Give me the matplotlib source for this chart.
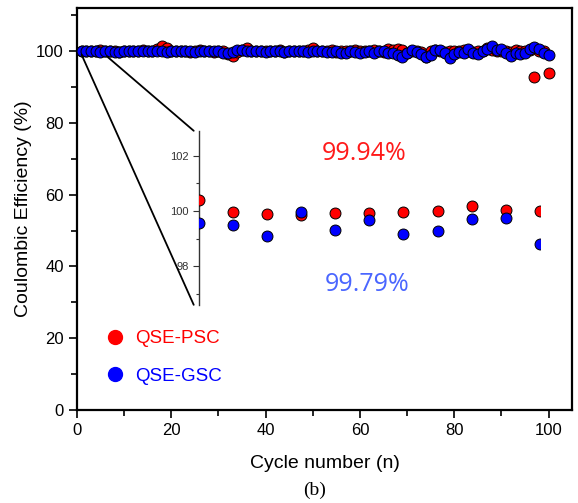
import matplotlib.pyplot as plt
import numpy as np
from matplotlib.lines import Line2D
from matplotlib.patches import ConnectionPatch
from matplotlib.ticker import MultipleLocator

plt.rcParams["font.family"] = ["Liberation Sans", "DejaVu Sans"]

# Coulombic efficiency per cycle (%)
cycles = np.arange(1, 101)
psc_ce = [
    100.0, 100.1, 99.9, 100.0, 100.2, 99.9, 100.0, 100.1, 99.8, 100.0,
    100.1, 99.9, 100.0, 100.2, 99.9, 100.0, 100.6, 101.3, 100.8, 100.1,
    99.9, 100.0, 100.1, 99.8, 100.0, 100.2, 99.9, 100.0, 99.8, 100.1,
    99.9, 99.3, 98.6, 99.8, 100.2, 100.8, 100.1, 99.9, 100.0, 100.1,
    99.9, 100.0, 100.2, 99.8, 100.0, 100.1, 99.9, 100.0, 100.3, 100.8,
    100.1, 99.9, 100.0, 100.2, 99.8, 100.0, 100.1, 99.9, 100.2, 100.0,
    99.9, 100.1, 100.3, 100.0, 99.8, 100.6, 100.4, 100.5, 100.2, 99.6,
    100.0, 100.1, 99.7, 98.4, 99.9, 100.2, 100.0, 99.8, 100.1, 100.0,
    99.9, 100.2, 100.0, 99.8, 100.1, 100.0, 101.0, 100.2, 99.9, 100.1,
    100.0, 99.7, 100.2, 100.1, 99.9, 100.3, 92.7, 100.0, 99.9, 94.0,
]
gsc_ce = [
    100.0, 100.1, 99.9, 100.0, 99.8, 99.9, 100.0, 99.7, 99.8, 100.0,
    100.1, 100.0, 99.9, 100.1, 100.0, 99.9, 100.1, 100.0, 99.8, 100.1,
    100.0, 99.9, 100.1, 100.0, 99.8, 100.0, 100.1, 99.9, 100.0, 99.9,
    99.6, 99.5, 99.8, 100.2, 100.3, 100.0, 99.9, 100.1, 100.0, 99.8,
    100.0, 100.1, 99.9, 99.8, 100.0, 100.1, 99.9, 100.0, 99.8, 99.9,
    100.1, 99.9, 99.7, 99.8, 100.0, 99.6, 99.5, 100.1, 99.7, 99.4,
    99.8, 100.0, 99.6, 99.9, 100.0, 99.6, 99.4, 98.9, 98.4, 99.4,
    100.3, 99.8, 99.1, 98.3, 98.9, 100.3, 100.3, 99.4, 98.1, 99.1,
    99.8, 99.4, 100.7, 99.6, 99.1, 100.0, 100.6, 101.4, 100.3, 100.7,
    99.4, 98.7, 99.4, 99.1, 99.6, 100.6, 101.2, 100.6, 99.6, 98.9,
]

# Zoomed view, every tenth cycle
inset_cycles = [0, 10, 20, 30, 40, 50, 60, 70, 80, 90, 100]
inset_psc = [100.39, 99.96, 99.88, 99.85, 99.92, 99.94, 99.96, 99.99, 100.17, 100.02, 99.99]
inset_gsc = [99.55, 99.48, 99.10, 99.95, 99.31, 99.66, 99.15, 99.28, 99.71, 99.76, 98.81]

psc_mean = "99.94%"
gsc_mean = "99.79%"

fig = plt.figure(figsize=(5.78, 5.03), dpi=100)
ax = fig.add_axes([0.133, 0.185, 0.857, 0.799])

mk = dict(marker="o", s=62, edgecolors="black", linewidths=0.7)
ax.scatter(cycles, psc_ce, color="#ff0000", zorder=3, **mk)
ax.scatter(cycles, gsc_ce, color="#0000ff", zorder=4, **mk)

ax.set_xlim(0, 105)
ax.set_ylim(0, 112)
ax.xaxis.set_major_locator(MultipleLocator(20))
ax.xaxis.set_minor_locator(MultipleLocator(10))
ax.yaxis.set_major_locator(MultipleLocator(20))
ax.yaxis.set_minor_locator(MultipleLocator(10))
ax.tick_params(which="both", direction="out", labelsize=12, width=1.2)
ax.tick_params(which="major", length=6)
ax.tick_params(which="minor", length=4)
for sp in ax.spines.values():
    sp.set_linewidth(1.6)

ax.set_xlabel("Cycle number (n)", fontsize=14, labelpad=12)
ax.set_ylabel("Coulombic Efficiency (%)", fontsize=14, labelpad=3)

ax.text(0.58, 0.639, psc_mean, transform=ax.transAxes, color="#ff1a1a",
        fontsize=18, family=["Open Sans", "DejaVu Sans"], ha="center", va="center")
ax.text(0.586, 0.311, gsc_mean, transform=ax.transAxes, color="#4a66ff",
        fontsize=18, family=["Open Sans", "DejaVu Sans"], ha="center", va="center")

handles = [
    Line2D([], [], ls="none", marker="o", markersize=10, color="#ff0000"),
    Line2D([], [], ls="none", marker="o", markersize=10, color="#0000ff"),
]
leg = ax.legend(handles, ["QSE-PSC", "QSE-GSC"], loc="upper left",
                bbox_to_anchor=(0.02, 0.24), frameon=False, fontsize=13.5,
                handletextpad=0.5, labelspacing=1.07, handlelength=1.2)
for txt, c in zip(leg.get_texts(), ["#ff0000", "#0000ff"]):
    txt.set_color(c)

# inset with only a left axis
ins = fig.add_axes([0.344, 0.394, 0.590, 0.346])
ins.patch.set_alpha(0)
ins.scatter(inset_cycles, inset_psc, color="#ff0000", zorder=3, clip_on=True, **mk)
ins.scatter(inset_cycles, inset_gsc, color="#0000ff", zorder=4, clip_on=True, **mk)
ins.set_xlim(0, 100)
ins.set_ylim(96.6, 102.9)
ins.yaxis.set_major_locator(MultipleLocator(2))
ins.yaxis.set_minor_locator(MultipleLocator(1))
for side in ["top", "right", "bottom"]:
    ins.spines[side].set_visible(False)
ins.spines["left"].set_linewidth(1.0)
ins.spines["left"].set_color("#333333")
ins.set_xticks([])
ins.tick_params(axis="y", which="both", direction="out", labelsize=8,
                colors="#333333", width=0.8)
ins.tick_params(axis="y", which="major", length=4)
ins.tick_params(axis="y", which="minor", length=2.5)

# lines joining the first cycles to the inset
for xa, ya, yb in [(1.0, 99.0, 0.0), (6.4, 98.5, 1.0)]:
    con = ConnectionPatch(xyA=(xa, ya), coordsA=ax.transData,
                          xyB=(-0.015, yb), coordsB=ins.transAxes,
                          color="black", lw=1.3, zorder=2)
    fig.add_artist(con)

fig.text(0.545, 0.025, "(b)", fontsize=14, family=["Liberation Serif", "DejaVu Serif"],
         ha="center", va="center")

fig.savefig("out.png", dpi=100)
plt.close(fig)
